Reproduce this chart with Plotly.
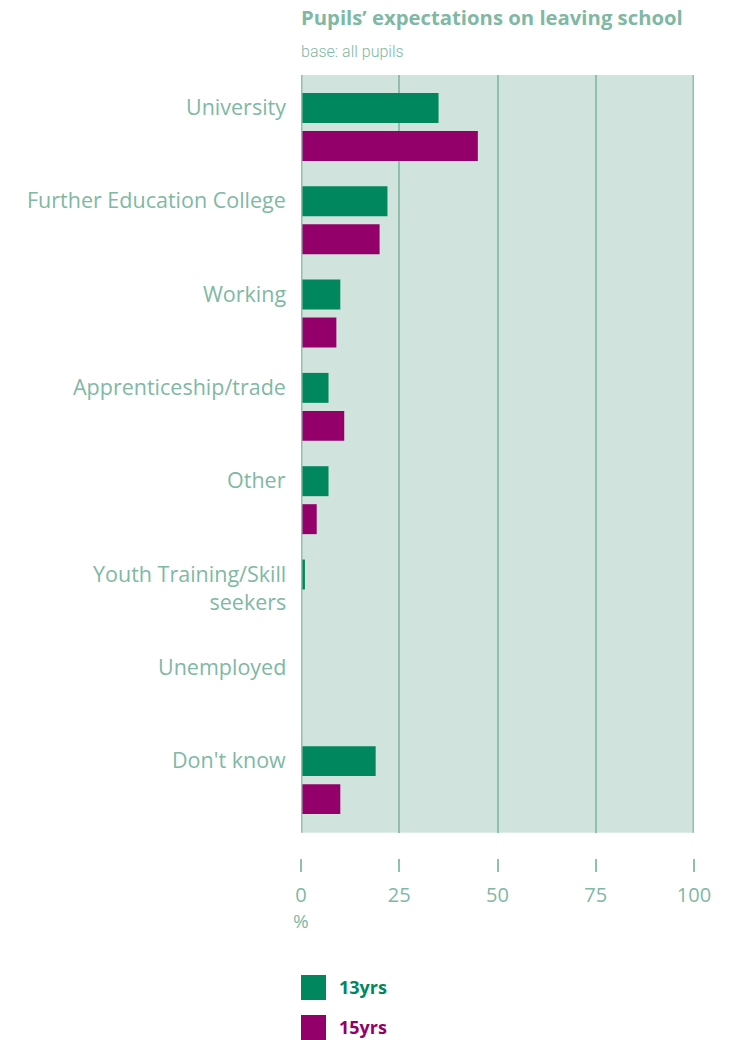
import plotly.graph_objects as go

# Survey data: share of pupils (%) by expected destination after school
categories = [
    "University",
    "Further Education College",
    "Working",
    "Apprenticeship/trade",
    "Other",
    "Youth Training/Skill<br>seekers",
    "Unemployed",
    "Don't know",
]
age13 = [35, 22, 10, 7, 7, 1, 0, 19]
age15 = [45, 20, 9, 11, 4, 0, 0, 10]
series_names = ["13yrs", "15yrs"]
x_ticks = [0, 25, 50, 75, 100]

GREEN = "#00875D"
MAGENTA = "#94006A"
TEXT = "#80B8A4"
GRID = "#8FBFAD"
PLOT_BG = "#D1E3DD"
FONT = "Open Sans"

BAR_W = 0.321
fig = go.Figure()
fig.add_trace(go.Bar(
    y=categories, x=age13, orientation="h", name=series_names[0],
    marker=dict(color=GREEN, line=dict(width=0)),
    width=BAR_W, offset=-BAR_W / 2, hoverinfo="x+y",
))
fig.add_trace(go.Bar(
    y=categories, x=age15, orientation="h", name=series_names[1],
    marker=dict(color=MAGENTA, line=dict(width=0)),
    width=BAR_W, offset=0.407 - BAR_W / 2, hoverinfo="x+y",
))

# Category labels sit level with the first bar of each pair
for cat in categories:
    fig.add_annotation(
        x=0, xref="paper", y=cat, yref="y",
        text=cat, showarrow=False, xanchor="right", yanchor="top",
        xshift=-13, yshift=18, align="right",
        font=dict(family=FONT, size=21.5, color=TEXT),
    )

H_PLOT = 783.0  # paper height in px (top of plot area to x-axis line)
Y_DOMAIN_BOTTOM = (858 - 832.7) / H_PLOT


def py(pix):
    """Convert a pixel row on the page to paper y."""
    return (858.0 - pix) / H_PLOT


def px(pix):
    return (pix - 301.0) / 393.0


# Edge gridlines at 0 and 100 (plotly skips gridlines on the range ends);
# the zero line sits over the bar bases
for xv, layer in ((x_ticks[0], "above"), (x_ticks[-1], "below")):
    fig.add_shape(
        type="line", xref="x", yref="paper", x0=xv, x1=xv,
        y0=Y_DOMAIN_BOTTOM, y1=1, layer=layer,
        line=dict(color=GRID, width=3),
    )

fig.add_annotation(
    x=0, xref="paper", y=py(17), yref="paper", xanchor="left", yanchor="middle",
    xshift=-2, text="<b>Pupils’ expectations on leaving school</b>", showarrow=False,
    font=dict(family=FONT, size=20.3, color=TEXT),
)
fig.add_annotation(
    x=0, xref="paper", y=py(52), yref="paper", xanchor="left", yanchor="middle",
    xshift=-2, text="base: all pupils", showarrow=False,
    font=dict(family="Roboto", size=16, color=TEXT, weight=300),
)
fig.add_annotation(
    x=0, xref="x", y=py(921), yref="paper", xanchor="center", yanchor="middle",
    text="%", showarrow=False,
    font=dict(family=FONT, size=19, color=TEXT),
)

# Legend drawn as coloured squares with bold labels
for name, color, top in [(series_names[0], GREEN, 975), (series_names[1], MAGENTA, 1015)]:
    fig.add_shape(
        type="rect", xref="paper", yref="paper",
        x0=px(301), x1=px(326), y0=py(top + 25), y1=py(top),
        fillcolor=color, line=dict(width=0),
    )
    fig.add_annotation(
        x=px(340), xref="paper", y=py(top + 12), yref="paper",
        xanchor="left", yanchor="middle", xshift=-3,
        text=f"<b>{name}</b>", showarrow=False,
        font=dict(family=FONT, size=18, color=color),
    )

fig.update_layout(
    width=738, height=1040,
    margin=dict(l=301, r=44, t=75, b=182, pad=0),
    paper_bgcolor="white", plot_bgcolor=PLOT_BG,
    barmode="overlay", showlegend=False,
    font=dict(family=FONT, color=TEXT),
    xaxis=dict(
        range=[0, 100], tickvals=x_ticks, ticks="outside", ticklen=13,
        tickwidth=2, tickcolor=GRID, showline=False, zeroline=False,
        showgrid=True, gridcolor=GRID, gridwidth=2,
        anchor="free", position=0, ticklabelstandoff=6,
        tickfont=dict(family=FONT, size=20, color=TEXT),
    ),
    yaxis=dict(
        domain=[Y_DOMAIN_BOTTOM, 1],
        range=[7.767, -0.353], showticklabels=False, ticks="",
        showgrid=False, zeroline=False, showline=False,
    ),
)

fig.write_html("out.html")
